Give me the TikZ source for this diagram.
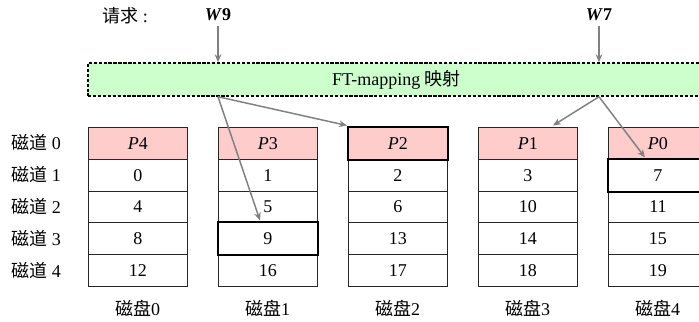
\documentclass[tikz,border=0pt]{standalone}
\usepackage{fontspec}
\setmainfont{Liberation Serif}
\newfontfamily\cjk{Noto Sans CJK SC}
\usetikzlibrary{arrows.meta}
\definecolor{pinkc}{RGB}{255,204,204}
\definecolor{greenc}{RGB}{204,255,204}
\definecolor{arrc}{RGB}{128,128,128}
\begin{document}
\begin{tikzpicture}[x=0.75pt,y=-0.75pt,
  font=\fontsize{13.5}{15}\selectfont,
  cell/.style={draw=black!85, line width=0.7pt, minimum width=74.25pt, minimum height=23.85pt, inner sep=0pt, anchor=north west},
  head/.style={cell, fill=pinkc},
  boldcell/.style={draw=black, line width=1.5pt},
  ftbox/.style={draw=black, fill=greenc, line width=1.1pt, dash pattern=on 2.5pt off 1.2pt, minimum width=462.75pt, minimum height=24.75pt, inner sep=0pt},
  arr/.style={draw=arrc, line width=1.1pt, -{Stealth[length=6pt,width=5pt]}}]
\useasboundingbox (0,0) rectangle (699,321);
\clip (0,0) rectangle (699,321);

% requests
\node (req) at (125,16) {{\cjk 请求} :};
\node (w9) at (218,15) {\textbf{\textit{W}9}};
\node (w7) at (599,15) {\textbf{\textit{W}7}};

% mapping box
\node[ftbox] (ft) at (396.5,79.5) {FT-mapping {\cjk 映射}};

% disks
\foreach \c/\p/\a/\b/\d/\e in {0/4/0/4/8/12, 1/3/1/5/9/16, 2/2/2/6/13/17, 3/1/3/10/14/18, 4/0/7/11/15/19} {
  \node[head] (c\c-0) at ({88+130*\c},127) {\textit{P}\p};
  \node[cell] (c\c-1) at ({88+130*\c},158.8) {\a};
  \node[cell] (c\c-2) at ({88+130*\c},190.6) {\b};
  \node[cell] (c\c-3) at ({88+130*\c},222.4) {\d};
  \node[cell] (c\c-4) at ({88+130*\c},254.2) {\e};
  \node (d\c) at ({137.5+130*\c},308) {{\cjk 磁盘}\c};
}
% highlighted cells
\draw[boldcell] (c2-0.north west) rectangle (c2-0.south east);
\draw[boldcell] (c1-3.north west) rectangle (c1-3.south east);
\draw[boldcell] (c4-1.north west) rectangle (c4-1.south east);

% track labels
\foreach \r/\yy in {0/142.9, 1/174.7, 2/206.5, 3/238.3, 4/270.1} {
  \node (t\r) at (36,\yy) {{\cjk 磁道} \r};
}

% arrows
\draw[arr] (w9) -- (w9 |- ft.north);
\draw[arr] (w7) -- (w7 |- ft.north);
\coordinate (s9) at (w9 |- ft.south);
\coordinate (s7) at (w7 |- ft.south);
\coordinate (e2) at (347,125.5);
\coordinate (e9) at (260,220.5);
\coordinate (e1) at (553,125.5);
\coordinate (e0) at (645,157.5);
\draw[arr] (s9) -- (e2);
\draw[arr] (s9) -- (e9);
\draw[arr] (s7) -- (e1);
\draw[arr] (s7) -- (e0);
\end{tikzpicture}
\end{document}
